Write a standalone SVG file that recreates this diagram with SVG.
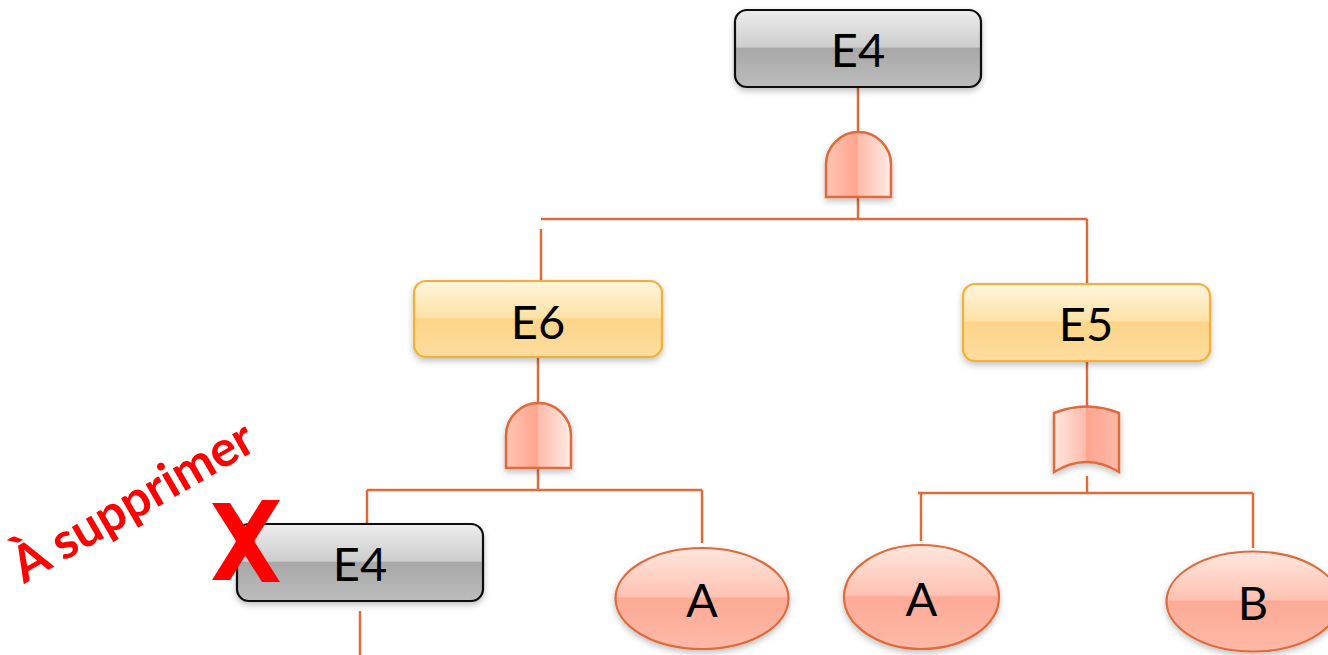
<svg xmlns="http://www.w3.org/2000/svg" width="1328" height="655" viewBox="0 0 1328 655">
  <defs>
    <linearGradient id="gGray" x1="0" y1="0" x2="0" y2="1">
      <stop offset="0" stop-color="#EDEDED"/>
      <stop offset="0.48" stop-color="#CDCDCD"/>
      <stop offset="0.5" stop-color="#A8A8A8"/>
      <stop offset="1" stop-color="#BCBCBC"/>
    </linearGradient>
    <linearGradient id="gYellow" x1="0" y1="0" x2="0" y2="1">
      <stop offset="0" stop-color="#FFF4DE"/>
      <stop offset="0.48" stop-color="#FEE2A6"/>
      <stop offset="0.5" stop-color="#FDD489"/>
      <stop offset="1" stop-color="#FDDD9E"/>
    </linearGradient>
    <linearGradient id="gEll" x1="0" y1="0" x2="0" y2="1">
      <stop offset="0" stop-color="#FFE6DE"/>
      <stop offset="0.48" stop-color="#FEC2B2"/>
      <stop offset="0.5" stop-color="#FCAA95"/>
      <stop offset="1" stop-color="#FDB9A7"/>
    </linearGradient>
    <linearGradient id="gAnd" x1="0" y1="0" x2="1" y2="0">
      <stop offset="0" stop-color="#FFC4B4"/>
      <stop offset="0.48" stop-color="#FDA48E"/>
      <stop offset="0.5" stop-color="#FEBBA9"/>
      <stop offset="1" stop-color="#FFEBE5"/>
    </linearGradient>
    <linearGradient id="gOr" x1="0" y1="0" x2="1" y2="0">
      <stop offset="0" stop-color="#FFE6DF"/>
      <stop offset="0.48" stop-color="#FDBCAC"/>
      <stop offset="0.5" stop-color="#FCA690"/>
      <stop offset="1" stop-color="#FDB8A6"/>
    </linearGradient>
    <filter id="shadow" x="-10%" y="-20%" width="120%" height="150%">
      <feDropShadow dx="0" dy="3" stdDeviation="3" flood-color="#000" flood-opacity="0.25"/>
    </filter>
  </defs>
  <style>
    .lbl { font-family: Lato, "Open Sans", "DejaVu Sans", sans-serif; font-size: 47px; fill: #000; text-anchor: middle; }
    .gray { fill: url(#gGray); stroke: #111; stroke-width: 2.2; filter: url(#shadow); }
    .yel { fill: url(#gYellow); stroke: #F4B034; stroke-width: 2.2; filter: url(#shadow); }
    .ell { fill: url(#gEll); stroke: #DF6A3A; stroke-width: 2.2; filter: url(#shadow); }
    .and { fill: url(#gAnd); stroke: #DF6A3A; stroke-width: 2.5; filter: url(#shadow); }
    .or { fill: url(#gOr); stroke: #DF6A3A; stroke-width: 2.5; filter: url(#shadow); }
    .conn { fill: none; stroke: #E06B3A; stroke-width: 2.5; }
  </style>

  <g id="connectors" class="conn">
    <path d="M858,87 V132"/>
    <path d="M858,197 V219"/>
    <path d="M541,219 H1087"/>
    <path d="M1087,219 V285"/>
    <path d="M541,229 V281"/>
    <path d="M538,357 V403"/>
    <path d="M538,468 V490"/>
    <path d="M367,490 H702"/>
    <path d="M702,490 V543"/>
    <path d="M367,490 V524"/>
    <path d="M360,611 V655"/>
    <path d="M1087,361 V406"/>
    <path d="M1087,476 V493"/>
    <path d="M918,493 H1253"/>
    <path d="M1253,493 V548"/>
    <path d="M921,493 V541"/>
  </g>

  <g id="node-E4-top">
    <rect class="gray" x="735" y="10" width="246" height="77" rx="12"/>
    <text class="lbl" x="858" y="67">E4</text>
  </g>

  <g id="gate-and-top">
    <path class="and" d="M826,197 V164.5 A32.5,32.5 0 0 1 891,164.5 V197 Z"/>
  </g>

  <g id="node-E6">
    <rect class="yel" x="414" y="281" width="248" height="76" rx="12"/>
    <text class="lbl" x="538" y="339">E6</text>
  </g>

  <g id="node-E5">
    <rect class="yel" x="963" y="284" width="247" height="77" rx="12"/>
    <text class="lbl" x="1086" y="341">E5</text>
  </g>

  <g id="gate-and-e6">
    <path class="and" d="M506,468 V435.5 A32.5,32.5 0 0 1 571,435.5 V468 Z"/>
  </g>

  <g id="gate-or-e5">
    <path class="or" d="M1054,472 V413 Q1086.5,400 1119,413 V472 Q1086.5,452 1054,472 Z"/>
  </g>

  <g id="node-E4-bottom">
    <rect class="gray" x="237" y="524" width="246" height="77" rx="12"/>
    <text class="lbl" x="360" y="581">E4</text>
  </g>

  <g id="node-A1">
    <ellipse class="ell" cx="702" cy="598.5" rx="86.5" ry="50.5"/>
    <text class="lbl" x="702" y="617">A</text>
  </g>

  <g id="node-A2">
    <ellipse class="ell" cx="921.5" cy="597" rx="77.5" ry="52"/>
    <text class="lbl" x="921.5" y="616">A</text>
  </g>

  <g id="node-B">
    <ellipse class="ell" cx="1253" cy="601.5" rx="86.5" ry="50"/>
    <text class="lbl" x="1253" y="620">B</text>
  </g>

  <g id="annotation">
    <polygon points="212,503 230,503 280,582 262,582" fill="#FF0000"/>
    <polygon points="262,500 280,500 230,580 212,580" fill="#FF0000"/>
    <text x="24" y="584" transform="rotate(-30 24 584)" font-family="Lato, 'Open Sans', sans-serif" font-weight="bold" font-size="50" fill="#FF0000">À supprimer</text>
  </g>
</svg>
